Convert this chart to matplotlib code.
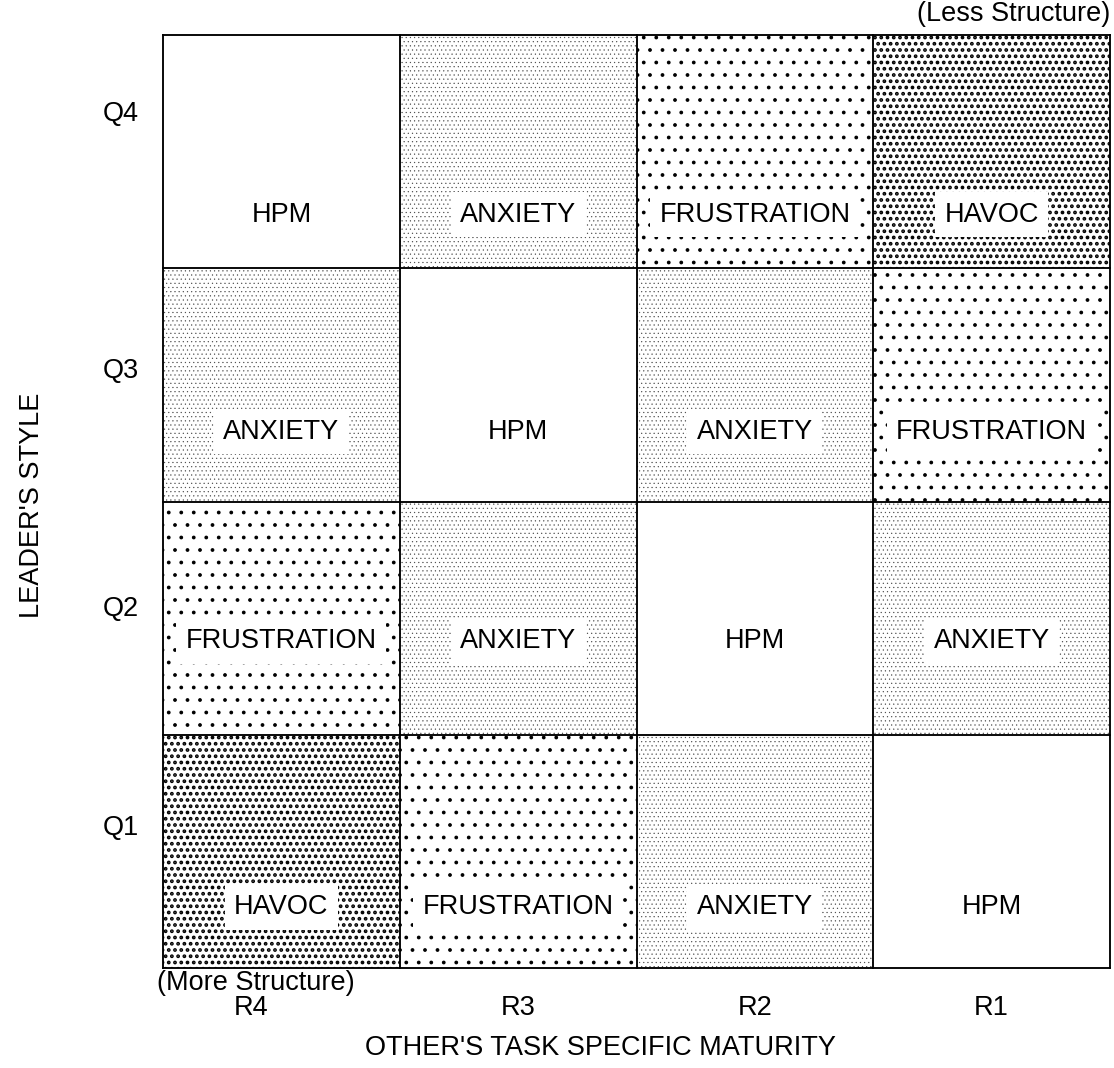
"""Leader style vs. follower maturity grid: HPM / ANXIETY / FRUSTRATION / HAVOC."""
import matplotlib

matplotlib.use("Agg")
import matplotlib.pyplot as plt
from matplotlib.patches import Rectangle

# --- data -----------------------------------------------------------------
row_labels = ["Q4", "Q3", "Q2", "Q1"]          # top to bottom
col_labels = ["R4", "R3", "R2", "R1"]          # left to right
outcomes = [
    ["HPM", "ANXIETY", "FRUSTRATION", "HAVOC"],          # Q4
    ["ANXIETY", "HPM", "ANXIETY", "FRUSTRATION"],        # Q3
    ["FRUSTRATION", "ANXIETY", "HPM", "ANXIETY"],        # Q2
    ["HAVOC", "FRUSTRATION", "ANXIETY", "HPM"],          # Q1
]
x_title = "OTHER'S TASK SPECIFIC MATURITY"
y_title = "LEADER'S STYLE"
left_note = "(More Structure)"
right_note = "(Less Structure)"

# --- styles ---------------------------------------------------------------
# hatch, dot colour, hatch linewidth
textures = {
    "HPM": (None, "black", 0.0),
    "ANXIETY": ("...", "#4a4a4a", 0.45),
    "FRUSTRATION": (".", "black", 1.2),
    "HAVOC": ("..", "black", 2.4),
}
q_label_y = [3.66, 2.56, 1.54, 0.60]     # Q labels, data units
label_dy = [0.23, 0.30, 0.40, 0.26]      # cell label height inside each row

DPI = 75
W, H = 1114, 1068
FS_CELL = 26.0
FS_AXIS = 26.0

plt.rcParams["font.family"] = ["Liberation Sans", "DejaVu Sans"]

fig = plt.figure(figsize=(W / DPI, H / DPI), dpi=DPI)
fig.patch.set_facecolor("white")
ax = fig.add_axes([163 / W, 1 - 968 / H, (1110 - 163) / W, (968 - 35) / H])
ax.set_xlim(0, len(col_labels))
ax.set_ylim(0, len(row_labels))
ax.axis("off")

n_rows = len(row_labels)
for i, row in enumerate(outcomes):
    y0 = n_rows - 1 - i
    for j, name in enumerate(row):
        hatch, dot_color, hlw = textures[name]
        rect = Rectangle((j, y0), 1, 1, facecolor="white", edgecolor=dot_color,
                         linewidth=0, hatch=hatch)
        if hatch and hasattr(rect, "set_hatch_linewidth"):
            rect.set_hatch_linewidth(hlw)
        ax.add_patch(rect)
        ax.text(j + 0.5, y0 + label_dy[i], name, ha="center", va="center",
                fontsize=FS_CELL, color="black", zorder=4,
                bbox=dict(boxstyle="square,pad=0.35", facecolor="white",
                          edgecolor="none"))

# grid lines
for k in range(len(col_labels) + 1):
    ax.plot([k, k], [0, n_rows], color="black", linewidth=1.8,
            solid_capstyle="projecting", zorder=5, clip_on=False)
for k in range(n_rows + 1):
    ax.plot([0, len(col_labels)], [k, k], color="black", linewidth=1.8,
            solid_capstyle="projecting", zorder=5, clip_on=False)

# row labels (Q) and column labels (R)
for lab, yq in zip(row_labels, q_label_y):
    ax.text(-0.18, yq, lab, ha="center", va="center", fontsize=FS_AXIS,
            clip_on=False)
for j, lab in enumerate(col_labels):
    xc = j + 0.5 if j else 0.37
    ax.text(xc, -0.17, lab, ha="center", va="center", fontsize=FS_AXIS,
            clip_on=False)
ax.text(0.39, -0.065, left_note, ha="center", va="center", fontsize=FS_AXIS,
        clip_on=False)

fig.text(1110 / W, 1 - 14 / H, right_note, ha="right", va="center",
         fontsize=FS_AXIS)
fig.text(600 / W, 1 - 1048 / H, x_title, ha="center", va="center",
         fontsize=FS_AXIS)
fig.text(32 / W, 1 - 505 / H, y_title, ha="center", va="center",
         rotation=90, fontsize=FS_AXIS)

fig.savefig("out.png", dpi=DPI, facecolor="white")
plt.close(fig)
